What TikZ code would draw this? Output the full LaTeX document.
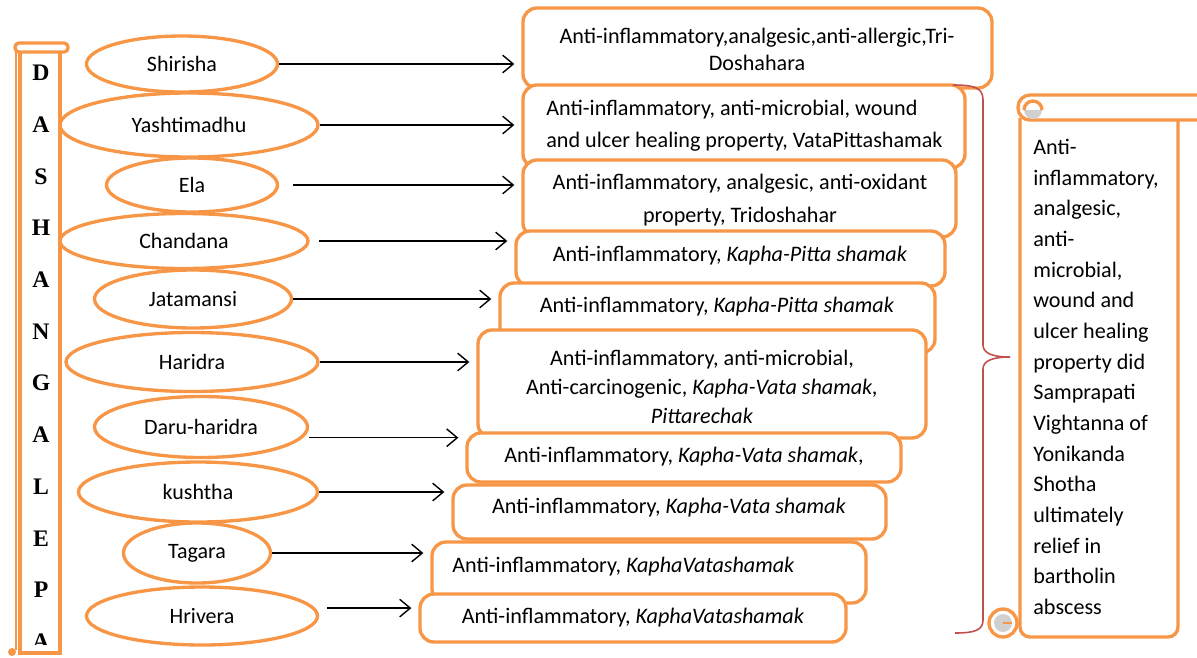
\documentclass[tikz,border=0pt]{standalone}
\usepackage{fontspec}
\setmainfont{Carlito}
\newfontfamily\letterFont{Liberation Serif}
\usetikzlibrary{positioning,shapes.geometric,arrows.meta}
\newlength{\px}
\setlength{\px}{0.02cm}
\definecolor{scrollOrange}{HTML}{F79646}
\definecolor{braceRed}{HTML}{C0504D}
\definecolor{curlGray}{HTML}{D0D0D0}
\tikzstyle{pixelGrid} = [x=0.02cm, y=-0.02cm]
\tikzstyle{herbStyle} = [ellipse, draw=scrollOrange, line width=1.9pt, inner sep=0pt, font=\fontsize{12.5}{15}\selectfont]
\tikzstyle{propBoxStyle} = [rectangle, rounded corners=0.28cm, draw=scrollOrange, fill=white, line width=1.9pt, inner sep=0pt]
\tikzstyle{propText} = [font=\fontsize{12.6}{15.4}\selectfont, align=center, inner sep=0pt]
\tikzstyle{herbArrowStyle} = [-{Straight Barb[length=6pt,width=10pt]}, line width=0.8pt, shorten >=7\px]
\tikzstyle{braceStyle} = [draw=braceRed, line width=0.9pt]
\tikzstyle{scrollLine} = [draw=scrollOrange, line width=1.9pt, fill=white]
\tikzstyle{scrollLetter} = [font=\letterFont\fontsize{13.5}{13.5}\bfseries\selectfont, inner sep=0pt]
\newcommand{\herb}[6]{\node [herbStyle, minimum width=#4\px, minimum height=#5\px] (#1) at (#2,#3) {#6};}
\newcommand{\propBox}[9]{
  \node [propBoxStyle, minimum width={(#5-#3)*\px}, minimum height={(#6-#4)*\px}] (#2) at ({(#3+#5)/2},{(#4+#6)/2}) {};
  \node [propText, #1] (#2Text) at (#7,#8) {#9};
}
\newcommand{\herbArrow}[3]{\draw [herbArrowStyle, shorten <=#3\px] (#1) -- (#1 -| #2.west);}

\begin{document}
\begin{tikzpicture}[pixelGrid]
  \useasboundingbox (0,0) rectangle (1197,657);
  % left scroll
  \draw [scrollLine] (20,51) rectangle (60,653);
  \draw [scrollOrange, line width=1.2pt] (16,51) -- (16,650);
  \draw [scrollLine, rounded corners=0.08cm] (15,43) rectangle (68,52);
  \fill [scrollOrange] (12,652) circle [radius=4\px];
  \begin{scope}
    \clip (20,52) rectangle (60,644);
    \foreach \letter [count=\k from 0] in {D,A,S,H,A,N,G,A,L,E,P,A}
      \node [scrollLetter] (letter\k) at (41,{73+51.7*\k}) {\letter};
  \end{scope}
  % herbs
  \herb{shirisha}{182}{64}{191}{56}{Shirisha}
  \herb{yashtimadhu}{189}{125}{258}{64}{Yashtimadhu}
  \herb{ela}{192}{185}{171}{54}{Ela}
  \herb{chandana}{184}{241}{248}{55}{Chandana}
  \herb{jatamansi}{193}{299}{197}{58}{Jatamansi}
  \herb{haridra}{192}{362}{252}{59}{Haridra}
  \herb{daruHaridra}{201}{427}{213}{61}{Daru-haridra}
  \herb{kushtha}{198}{492}{239}{60}{kushtha}
  \herb{tagara}{197}{553}{147}{60}{Tagara}
  \herb{hrivera}{202}{616}{231}{58}{Hrivera}
  % properties
  \propBox{}{shirishaBox}{523}{8}{992}{88}{757}{49}{Anti-inflammatory,analgesic,anti-allergic,Tri-\\Doshahara}
  \propBox{anchor=west, align=left}{yashtimadhuBox}{523}{85}{965}{168}{546}{126}{Anti-inflammatory, anti-microbial, wound\\[2.8pt]and ulcer healing property, VataPittashamak}
  \propBox{}{elaBox}{523}{160}{956}{237}{740}{200}{Anti-inflammatory, analgesic, anti-oxidant\\[3.5pt]property, Tridoshahar}
  \propBox{}{chandanaBox}{516}{231}{945}{286}{730}{256}{Anti-inflammatory, \textit{Kapha-Pitta shamak}}
  \propBox{}{jatamansiBox}{500}{283}{935}{353}{717}{307}{Anti-inflammatory, \textit{Kapha-Pitta shamak}}
  \propBox{}{haridraBox}{478}{330}{926}{438}{702}{387}{Anti-inflammatory, anti-microbial,\\[1pt]Anti-carcinogenic, \textit{Kapha-Vata shamak,}\\[1pt]\textit{Pittarechak}}
  \propBox{}{daruHaridraBox}{467}{433}{901}{482}{684}{457}{Anti-inflammatory, \textit{Kapha-Vata shamak},}
  \propBox{}{kushthaBox}{453}{485}{886}{539}{669}{508}{Anti-inflammatory, \textit{Kapha-Vata shamak}}
  \propBox{anchor=west}{tagaraBox}{432}{542}{866}{603}{452}{567}{Anti-inflammatory, \textit{KaphaVatashamak}}
  \propBox{}{hriveraBox}{420}{594}{846}{642}{633}{618}{Anti-inflammatory, \textit{KaphaVatashamak}}
  % arrows
  \herbArrow{shirisha.east}{shirishaBox}{0}
  \herbArrow{yashtimadhu.east}{yashtimadhuBox}{0}
  \herbArrow{ela.east}{elaBox}{14}
  \herbArrow{chandana.east}{chandanaBox}{9}
  \herbArrow{jatamansi.east}{jatamansiBox}{0}
  \herbArrow{haridra.east}{haridraBox}{0}
  \herbArrow{daruHaridra.354}{daruHaridraBox}{6}
  \herbArrow{kushtha.east}{kushthaBox}{0}
  \herbArrow{tagara.east}{tagaraBox}{0}
  \herbArrow{hrivera.4}{hriveraBox}{12}
  % brace
  \draw [braceStyle] (953,85) .. controls (975,85) and (983,88) .. (983,100) -- (983,345)
    .. controls (983,353) and (992,357) .. (1010,357)
    .. controls (992,357) and (983,361) .. (983,369) -- (983,620)
    .. controls (983,630) and (975,633) .. (955,633);
  % right scroll
  \draw [scrollLine, rounded corners=0.2cm] (1020,118) -- (1020,637) -- (1178,637) -- (1178,118);
  \draw [scrollLine, rounded corners=0.24cm] (1018,95) rectangle (1240,120);
  \fill [curlGray] (1024,110) arc [start angle=180, end angle=360, radius=9\px];
  \draw [scrollOrange, line width=1.9pt] (1042,110) arc [start angle=0, end angle=180, radius=9\px];
  \draw [scrollLine] (1003,623) circle [radius=14\px];
  \fill [curlGray] (1003,623) circle [radius=9\px];
  \draw [scrollOrange, line width=1pt] (1003,623) -- (1012,623);
  \node [propText, align=left, anchor=west, font=\fontsize{12.6}{17.46}\selectfont] (summaryText) at (1033,377)
    {Anti-\\inflammatory,\\analgesic,\\anti-\\microbial,\\wound and\\ulcer healing\\property did\\Samprapati\\Vightanna of\\Yonikanda\\Shotha\\ultimately\\relief in\\bartholin\\abscess};
\end{tikzpicture}
\end{document}
